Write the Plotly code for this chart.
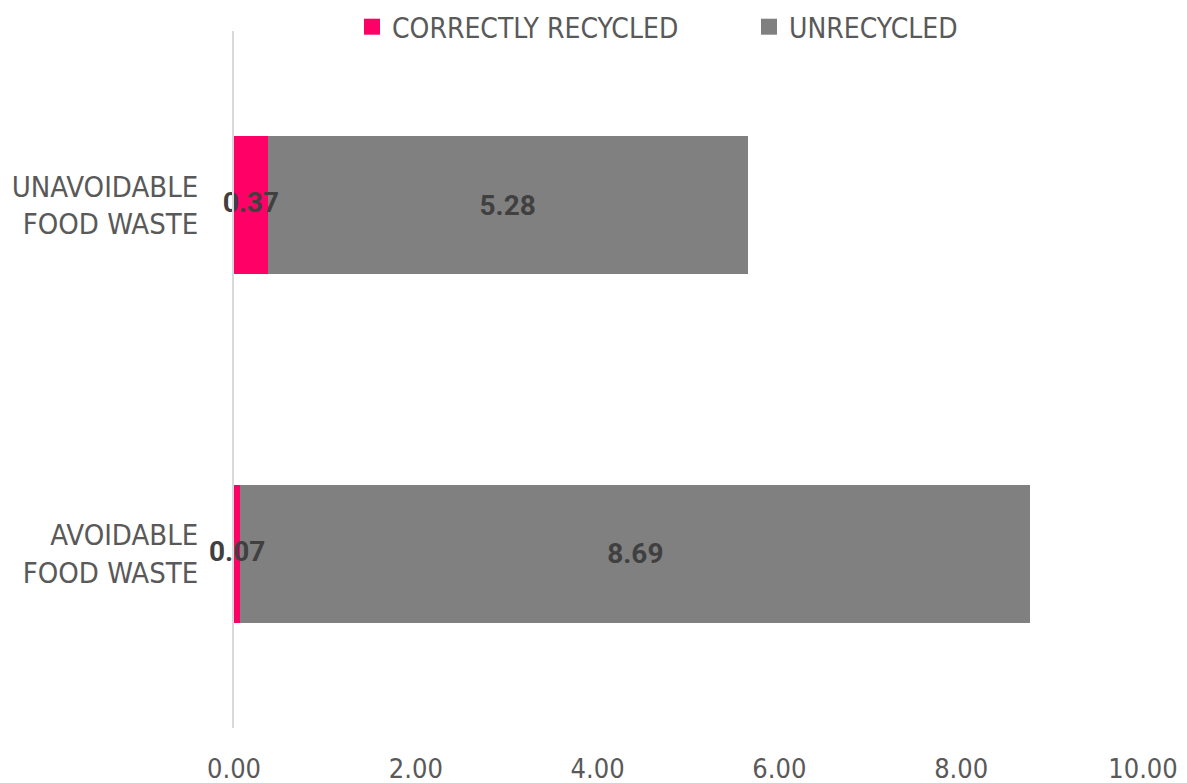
import plotly.graph_objects as go

categories = ["AVOIDABLE<br>FOOD WASTE", "UNAVOIDABLE<br>FOOD WASTE"]
correctly_recycled = [0.07, 0.37]
unrecycled = [8.69, 5.28]
series_names = ["CORRECTLY RECYCLED", "UNRECYCLED"]
series_colors = ["#FF0066", "#808080"]
x_ticks = [0, 2, 4, 6, 8, 10]
x_tick_labels = ["0.00", "2.00", "4.00", "6.00", "8.00", "10.00"]

FONT = "DejaVu Sans Condensed, Roboto, sans-serif"
label_font = dict(family="Roboto", size=28, color="#404040", weight="bold")

fig = go.Figure()
fig.add_trace(go.Bar(
    y=categories, x=correctly_recycled, orientation="h",
    name=series_names[0], marker=dict(color=series_colors[0], line=dict(width=0)),
    showlegend=False, legendgroup="a",
))
fig.add_trace(go.Bar(
    y=categories, x=unrecycled, orientation="h",
    name=series_names[1], marker=dict(color=series_colors[1], line=dict(width=0)),
    text=[f"{v:.2f}" for v in unrecycled], textposition="inside",
    insidetextanchor="middle", constraintext="none", textangle=0,
    insidetextfont=label_font, showlegend=False, legendgroup="b",
))
# labels for the small pink segments, drawn on top and centred on each segment
fig.add_trace(go.Scatter(
    y=categories, x=[v / 2 for v in correctly_recycled], mode="text",
    text=[f"{v:.2f}" for v in correctly_recycled], textposition="middle center",
    textfont=label_font, showlegend=False, cliponaxis=False, hoverinfo="skip",
))
# legend entries with larger square swatches
for name, color, grp in zip(series_names, series_colors, ["a", "b"]):
    fig.add_trace(go.Scatter(
        x=[None], y=[None], mode="markers", name=name, legendgroup=grp,
        marker=dict(symbol="square", size=17, color=color),
    ))

fig.update_layout(
    barmode="stack",
    bargap=0.604,
    width=1187, height=783,
    margin=dict(l=234, r=44, t=31, b=55, autoexpand=False),
    paper_bgcolor="white", plot_bgcolor="white",
    font=dict(family=FONT, color="#595959", size=26),
    showlegend=True,
    legend=dict(orientation="h", x=(352 - 234) / 909, xanchor="left", yref="container",
                y=1 - 27 / 783, yanchor="middle", traceorder="normal",
                itemsizing="trace",
                font=dict(family=FONT, size=28, color="#595959"),
                itemwidth=30, entrywidth=352, entrywidthmode="pixels"),
    xaxis=dict(range=[0, 10], tickvals=x_ticks, ticktext=x_tick_labels,
               showgrid=False, zeroline=False, showline=False,
               ticks="", ticklabelstandoff=22, automargin=False,
               tickfont=dict(family=FONT, size=27, color="#595959")),
    yaxis=dict(showgrid=False, zeroline=False, showline=True, linecolor="#d9d9d9",
               linewidth=2, ticks="", ticklabelstandoff=28, automargin=False,
               tickfont=dict(family=FONT, size=29, color="#595959"),
               range=[-0.5, 1.5]),
)

fig.write_html("out.html")
